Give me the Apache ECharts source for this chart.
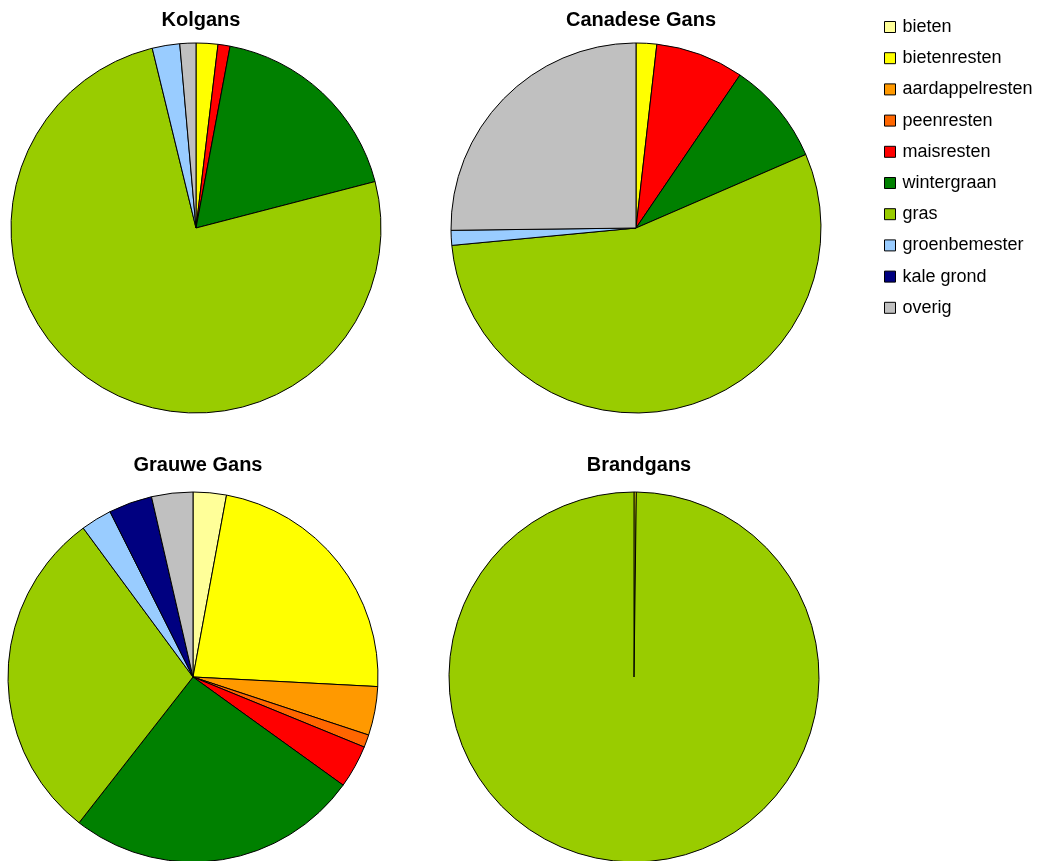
<!DOCTYPE html>
<html>
<head>
<meta charset="utf-8">
<script src="https://cdn.jsdelivr.net/npm/echarts@6/dist/echarts.min.js"></script>
<style>html,body{margin:0;padding:0;background:#fff}#c{width:1037px;height:861px}</style>
</head>
<body>
<div id="c"></div>
<script>
const categories = ['bieten','bietenresten','aardappelresten','peenresten','maisresten','wintergraan','gras','groenbemester','kale grond','overig'];
const colors = ['#FFFF99','#FFFF00','#FF9900','#FF6600','#FF0000','#008000','#99CC00','#99CCFF','#000080','#C0C0C0'];
const titles = ['Kolgans','Canadese Gans','Grauwe Gans','Brandgans'];
const kolgans      = [0, 1.9, 0, 0, 1.05, 18.0, 75.2, 2.4, 0, 1.4];
const canadeseGans = [0, 1.8, 0, 0, 7.7, 9.0, 55.0, 1.3, 0, 25.2];
const grauweGans   = [2.9, 22.9, 4.25, 1.1, 3.75, 25.6, 29.3, 2.7, 3.8, 3.6];
const brandgans    = [0, 0.2, 0, 0, 0, 0, 99.8, 0, 0, 0];
const seriesValues = [kolgans, canadeseGans, grauweGans, brandgans];

const centers = [[196,228],[636,228],[193,677],[634,677]];
const radius = 185;
const titleY = [5,5,450,450];

const chart = echarts.init(document.getElementById('c'), null, {renderer:'canvas'});
const series = seriesValues.map((vals, i) => ({
  type: 'pie',
  name: titles[i],
  center: centers[i],
  radius: radius,
  startAngle: 90,
  clockwise: true,
  label: {show: false},
  labelLine: {show: false},
  emphasis: {disabled: true},
  itemStyle: {borderColor: '#000', borderWidth: 1},
  data: vals.map((v, k) => ({name: categories[k], value: v, itemStyle: {color: colors[k]}})).filter(d => d.value > 0)
}));

chart.setOption({
  animation: false,
  backgroundColor: '#fff',
  title: titles.map((t, i) => ({
    text: t,
    left: centers[i][0],
    top: titleY[i],
    textAlign: 'center',
    textStyle: {fontFamily: 'Liberation Sans, Arial, sans-serif', fontSize: 20, lineHeight: 20, fontWeight: 'bold', color: '#000'}
  })),
  legend: {
    orient: 'vertical',
    left: 879,
    top: 13,
    itemWidth: 11,
    itemHeight: 11,
    itemGap: 13.2,
    icon: 'rect',
    selectedMode: false,
    data: categories,
    textStyle: {fontFamily: 'Liberation Sans, Arial, sans-serif', fontSize: 18, lineHeight: 18, color: '#000', padding: [0,0,0,2]},
    itemStyle: {borderColor: '#000', borderWidth: 1}
  },
  series: series
});
</script>
</body>
</html>
